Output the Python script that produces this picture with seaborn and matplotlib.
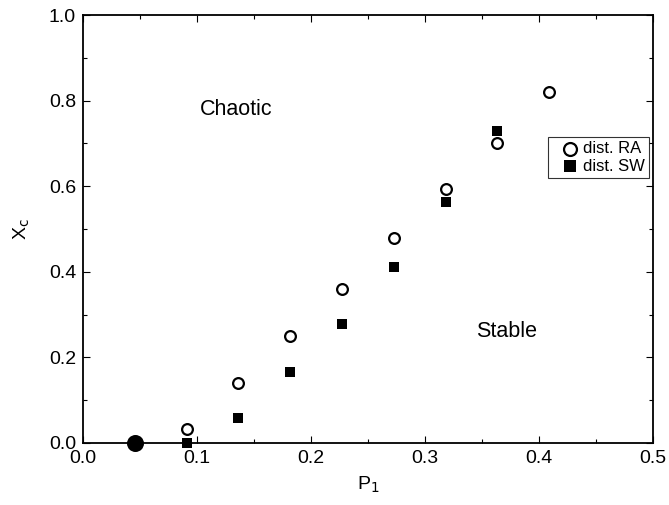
import matplotlib
matplotlib.use("Agg")
import matplotlib.pyplot as plt
import seaborn as sns
import pandas as pd
from matplotlib.ticker import MultipleLocator, FormatStrFormatter

sns.set_theme(style="white")
plt.rcParams['font.family'] = ['Liberation Sans', 'DejaVu Sans']
plt.rcParams.update({'text.color': 'black', 'axes.labelcolor': 'black',
                     'xtick.color': 'black', 'ytick.color': 'black'})

# Data
p1_ra = [0.0909, 0.1364, 0.1818, 0.2273, 0.2727, 0.3182, 0.3636, 0.4091]
xc_ra = [0.033, 0.140, 0.251, 0.360, 0.479, 0.594, 0.702, 0.821]
p1_sw = [0.0909, 0.1364, 0.1818, 0.2273, 0.2727, 0.3182, 0.3636]
xc_sw = [0.000, 0.059, 0.165, 0.279, 0.411, 0.563, 0.729]
p1_origin = [0.0455]
xc_origin = [0.0]

df_ra = pd.DataFrame({"P1": p1_ra, "Xc": xc_ra})
df_sw = pd.DataFrame({"P1": p1_sw, "Xc": xc_sw})
df_o = pd.DataFrame({"P1": p1_origin, "Xc": xc_origin})

fig = plt.figure(figsize=(6.69, 5.05), dpi=100)
ax = fig.add_axes([0.124, 0.123, 0.852, 0.847])

sns.scatterplot(data=df_sw, x="P1", y="Xc", marker="s", s=50, color="black",
                edgecolor="black", linewidth=0, ax=ax, label="dist. SW", zorder=3, clip_on=False)
sns.scatterplot(data=df_ra, x="P1", y="Xc", marker="o", s=60, facecolor="white",
                edgecolor="black", linewidth=1.6, ax=ax, label="dist. RA", zorder=4, clip_on=False)
sns.scatterplot(data=df_o, x="P1", y="Xc", marker="o", s=150, color="black",
                edgecolor="black", linewidth=0, ax=ax, zorder=5, clip_on=False)

ax.set_xlim(0, 0.5)
ax.set_ylim(0, 1.0)
ax.xaxis.set_major_locator(MultipleLocator(0.1))
ax.xaxis.set_minor_locator(MultipleLocator(0.05))
ax.yaxis.set_major_locator(MultipleLocator(0.2))
ax.yaxis.set_minor_locator(MultipleLocator(0.1))
ax.xaxis.set_major_formatter(FormatStrFormatter('%.1f'))
ax.yaxis.set_major_formatter(FormatStrFormatter('%.1f'))
ax.tick_params(which='both', direction='in', top=True, right=True, bottom=True, left=True,
               color='black', labelcolor='black', width=0.8)
ax.tick_params(which='major', length=5, labelsize=14, pad=5)
ax.tick_params(which='minor', length=3)
for sp in ax.spines.values():
    sp.set_color('black')
    sp.set_linewidth(1.3)

ax.set_xlabel("P$_1$", fontsize=14, labelpad=6, color='black')
ax.set_ylabel("X$_\\mathrm{c}$", fontsize=14, labelpad=12, color='black')

ax.text(0.103, 0.78, "Chaotic", fontsize=15.5, va='center', ha='left', color='black')
ax.text(0.345, 0.26, "Stable", fontsize=15.5, va='center', ha='left', color='black')

handles, labels = ax.get_legend_handles_labels()
order = [labels.index("dist. RA"), labels.index("dist. SW")]
leg = ax.legend([handles[i] for i in order], [labels[i] for i in order],
                loc='upper right', bbox_to_anchor=(0.993, 0.715), frameon=True,
                fancybox=False, edgecolor='black', fontsize=12, handletextpad=-0.35,
                borderpad=0.25, labelspacing=0.15, handlelength=2.2, markerscale=1.2,
                borderaxespad=0, labelcolor='black')
leg.get_frame().set_linewidth(0.8)

fig.savefig("out.png", dpi=100)
